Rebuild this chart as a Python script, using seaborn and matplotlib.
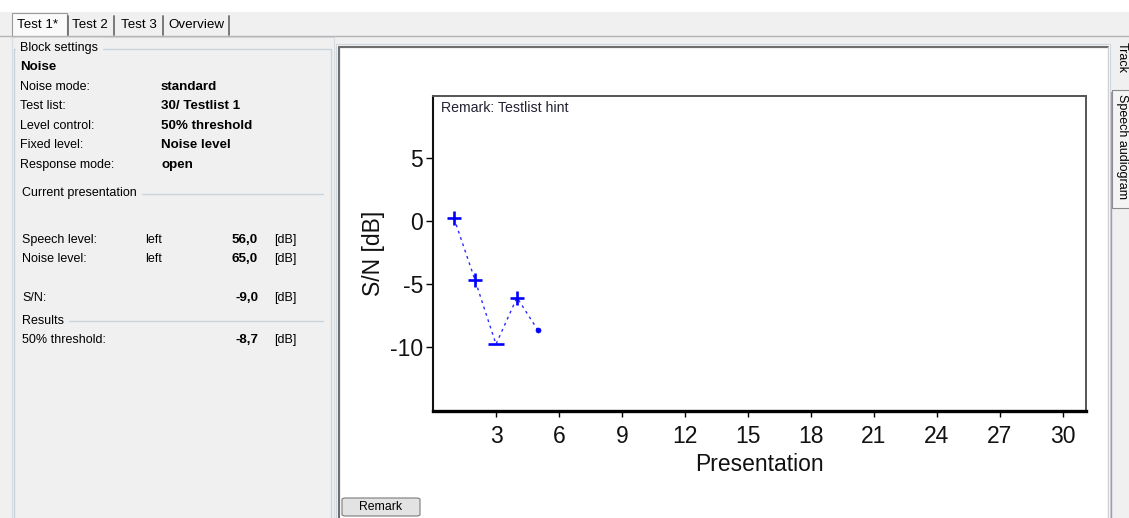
import matplotlib
matplotlib.use("Agg")
import matplotlib.pyplot as plt
import matplotlib.patches as mpatches
from matplotlib.lines import Line2D
import seaborn as sns
import pandas as pd

# ---------------- data ----------------
presentation = [1, 2, 3, 4, 5]
sn_db = [0.2, -4.7, -9.8, -6.1, -8.7]
response = ["correct", "correct", "wrong", "correct", "current"]
x_ticks = [3, 6, 9, 12, 15, 18, 21, 24, 27, 30]
y_ticks = [5, 0, -5, -10]

tab_labels = ["Test 1*", "Test 2", "Test 3", "Overview"]
block_labels = ["Noise mode:", "Test list:", "Level control:", "Fixed level:", "Response mode:"]
block_values = ["standard", "30/ Testlist 1", "50% threshold", "Noise level", "open"]
level_labels = ["Speech level:", "Noise level:"]
level_sides = ["left", "left"]
level_values = ["56,0", "65,0"]
sn_value = "-9,0"
threshold_value = "-8,7"
side_tabs = ["Track", "Speech audiogram"]

# ---------------- figure ----------------
W, H = 1129, 518
sns.set_theme(style="white")
plt.rcParams["font.family"] = ["Liberation Sans", "DejaVu Sans"]
plt.rcParams["axes.unicode_minus"] = False

fig = plt.figure(figsize=(W / 100, H / 100), dpi=100, facecolor="#f0f0f0")
TF = fig.transFigure
FS = 9.0
FSB = 9.6


def T(x, y, s, **kw):
    kw.setdefault("fontsize", FS)
    kw.setdefault("va", "center")
    kw.setdefault("color", "#000000")
    return fig.text(x / W, 1 - y / H, s, **kw)


def R(x0, y0, x1, y1, **kw):
    kw.setdefault("zorder", -5)
    p = mpatches.Rectangle((x0 / W, 1 - y1 / H), (x1 - x0) / W, (y1 - y0) / H,
                           transform=TF, **kw)
    fig.add_artist(p)
    return p


def L(xs, ys, **kw):
    kw.setdefault("zorder", -4)
    kw.setdefault("lw", 1)
    ln = Line2D([x / W for x in xs], [1 - y / H for y in ys], transform=TF, **kw)
    fig.add_artist(ln)
    return ln


# top white strip
R(0, 0, W, 12, facecolor="white", edgecolor="none")
# tab strip
L([0, W], [36, 36], color="#b4b4b4")
R(12, 13, 67, 37, facecolor="#fafafa", edgecolor="#9a9a9a", lw=0.8)
for xs in [68, 114, 163, 229]:
    L([xs, xs], [16, 35], color="#707070", lw=1.3)
tab_x = [17, 72, 121, 168]
for lab, tx in zip(tab_labels, tab_x):
    T(tx, 24.5, lab, fontsize=9.6)

# left panel
R(12, 37, 334, H + 2, facecolor="#f0f0f0", edgecolor="#d8dde2", lw=0.8)
L([14, 14], [49, H], color="#c9d3dc")
L([14, 331], [49, 49], color="#c9d3dc")
L([331, 331], [49, H], color="#c9d3dc")
T(20, 48.5, "Block settings", backgroundcolor="#f0f0f0")
T(20, 67, "Noise", fontweight="bold", fontsize=FSB)
row_y = [87, 106, 126, 145, 165]
for lab, val, ry in zip(block_labels, block_values, row_y):
    T(20, ry, lab)
    T(161, ry, val, fontweight="bold", fontsize=FSB)

L([18, 323], [193.5, 193.5], color="#c9d3dc")
T(22, 193, "Current presentation", backgroundcolor="#f0f0f0")
for lab, side, val, ry in zip(level_labels, level_sides, level_values, [240, 259]):
    T(22, ry, lab)
    T(145, ry, side)
    T(258, ry, val, fontweight="bold", ha="right", fontsize=FSB)
    T(274, ry, "[dB]")
T(22, 298, "S/N:")
T(258, 298, sn_value, fontweight="bold", ha="right", fontsize=FSB)
T(274, 298, "[dB]")

L([18, 323], [321, 321], color="#c9d3dc")
T(22, 321, "Results", backgroundcolor="#f0f0f0")
T(22, 340, "50% threshold:")
T(258, 340, threshold_value, fontweight="bold", ha="right", fontsize=FSB)
T(274, 340, "[dB]")

# chart panel
R(336, 44, 1110, H + 2, facecolor="white", edgecolor="#cfd6dc", lw=0.8)
L([339, 339], [47, H], color="#6e6e6e", lw=1.6)
L([339, 1108], [47, 47], color="#6e6e6e", lw=1.6)
L([1108, 1108], [47, H], color="#d0d0d0", lw=1)

# side tabs
L([1111, 1111], [92, H], color="#a0a0a0")
R(1112, 90, 1130, 208, facecolor="#f4f4f4", edgecolor="#8a8a8a", lw=0.8)
T(1121.5, 58, side_tabs[0], rotation=270, ha="center", fontsize=FS)
T(1121.5, 146, side_tabs[1], rotation=270, ha="center", fontsize=FS)

# Remark button
btn = mpatches.FancyBboxPatch((342 / W, 1 - 516 / H), 78 / W, 18 / H,
                              boxstyle="round,pad=0,rounding_size=0.003",
                              transform=TF, facecolor="#e3e3e3",
                              edgecolor="#7a7a7a", lw=0.8, zorder=2)
fig.add_artist(btn)
T(381, 507.5, "Remark", ha="center", fontsize=8.8, zorder=3)

# ---------------- axes ----------------
ax_l, ax_r, ax_t, ax_b = 433, 1086, 96, 411
ax = fig.add_axes([ax_l / W, 1 - ax_b / H, (ax_r - ax_l) / W, (ax_b - ax_t) / H])
ax.set_zorder(5)
ax.set_facecolor("white")

df = pd.DataFrame({"Presentation": presentation, "SN": sn_db, "Response": response})

sns.lineplot(data=df, x="Presentation", y="SN", ax=ax, color="#2a2aff",
             lw=1.0, linestyle=(0, (2, 2.8)), zorder=2)
sns.scatterplot(data=df[df.Response == "correct"], x="Presentation", y="SN", ax=ax,
                marker="+", s=100, color="#0000ff", linewidth=1.9, zorder=3)
sns.scatterplot(data=df[df.Response == "wrong"], x="Presentation", y="SN", ax=ax,
                marker="_", s=120, color="#0000ff", linewidth=1.9, zorder=3)
sns.scatterplot(data=df[df.Response == "current"], x="Presentation", y="SN", ax=ax,
                marker="o", s=14, color="#0000ff", edgecolor="#0000ff", zorder=3)

ax.set_xlim(0, 31.1)
ax.set_ylim(-15.1, 9.9)
ax.set_xticks(x_ticks)
ax.set_yticks(y_ticks)
ax.tick_params(axis="x", direction="out", length=4, width=1, pad=6,
               labelsize=16.5, colors="#000000", bottom=True)
ax.tick_params(axis="y", direction="out", length=5, width=1, pad=2,
               labelsize=16.5, colors="#000000", left=True)
for lab in ax.get_xticklabels() + ax.get_yticklabels():
    lab.set_color("#111111")

ax.set_xlabel("Presentation", fontsize=16.5, color="#111111", labelpad=4)
ax.set_ylabel("S/N [dB]", fontsize=16.5, color="#111111")
ax.yaxis.set_label_coords(-0.074, 0.5)

for side in ["top", "right"]:
    ax.spines[side].set_visible(True)
    ax.spines[side].set_color("#555555")
    ax.spines[side].set_linewidth(1.4)
ax.spines["left"].set_color("#111111")
ax.spines["left"].set_linewidth(1.5)
ax.spines["bottom"].set_color("#000000")
ax.spines["bottom"].set_linewidth(2.4)

ax.text(0.012, 0.985, "Remark: Testlist hint", transform=ax.transAxes,
        ha="left", va="top", fontsize=10.2, color="#222233")

fig.savefig("out.png", dpi=100, facecolor=fig.get_facecolor())
